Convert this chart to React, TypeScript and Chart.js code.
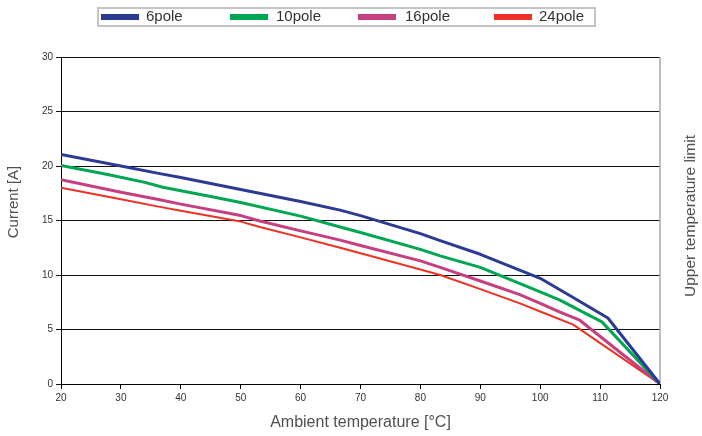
import React, { useEffect, useRef } from "react";
import { Chart, registerables } from "chart.js";

Chart.register(...registerables);

const SERIES_NAMES = ["6pole", "10pole", "16pole", "24pole"];
const SERIES_COLORS = ["#2b3b93", "#00a651", "#c63f80", "#ee3124"];
const SERIES_WIDTHS = [3, 3, 3, 2];

const T6 = [20, 30, 36.5, 40, 50, 60, 66.6, 70, 80, 83.3, 90, 100, 105, 111.3, 120];
const I6 = [21.05, 20.0, 19.3, 18.95, 17.85, 16.75, 15.95, 15.45, 13.8, 13.15, 11.9, 9.7, 8.1, 6.05, 0];

const T10 = [20, 28, 34, 37, 45, 50, 60, 66.6, 70, 80, 83.3, 90, 100, 103.3, 110.3, 120];
const I10 = [20.05, 19.2, 18.5, 18.05, 17.2, 16.65, 15.4, 14.4, 13.9, 12.35, 11.75, 10.7, 8.45, 7.7, 5.7, 0];

const T16 = [20, 30, 36.5, 40, 50, 53.2, 60, 66.6, 70, 80, 83.3, 90, 96.6, 100, 103.3, 106.6, 120];
const I16 = [18.75, 17.6, 16.9, 16.5, 15.45, 14.95, 14.05, 13.2, 12.7, 11.3, 10.7, 9.45, 8.2, 7.4, 6.6, 5.85, 0];

const T24 = [20, 30, 36.5, 40, 50, 53.2, 60, 66.6, 70, 80, 83.3, 90, 96.6, 100, 105.5, 120];
const I24 = [18.0, 16.95, 16.25, 15.9, 14.9, 14.4, 13.45, 12.5, 12.0, 10.5, 10.0, 8.7, 7.4, 6.65, 5.45, 0];

const X_TITLE = "Ambient temperature [°C]";
const Y_TITLE = "Current [A]";
const RIGHT_TITLE = "Upper temperature limit";

const TEMPS = [T6, T10, T16, T24];
const CURRENTS = [I6, I10, I16, I24];

const TICK_FONT = { family: "'Liberation Sans', Arial, sans-serif", size: 10 };
const FONT_FAMILY = "'Liberation Sans', Arial, sans-serif";

const decorPlugin = {
  id: "decor",
  beforeDatasetsDraw(chart: any) {
    const { ctx, chartArea } = chart;
    ctx.save();
    ctx.strokeStyle = "#a8a8a8";
    ctx.lineWidth = 1.5;
    ctx.beginPath();
    ctx.moveTo(chartArea.right, chartArea.top);
    ctx.lineTo(chartArea.right, chartArea.bottom);
    ctx.stroke();
    ctx.restore();
  },
  afterDraw(chart: any) {
    const { ctx, chartArea } = chart;
    ctx.save();
    // legend box
    ctx.strokeStyle = "#c4c4c4";
    ctx.lineWidth = 2;
    ctx.strokeRect(98, 8, 497, 18);
    const swX = [101, 230, 358, 494];
    const txX = [146, 276, 405, 539];
    ctx.font = "15px " + FONT_FAMILY;
    ctx.textBaseline = "middle";
    ctx.textAlign = "left";
    for (let i = 0; i < SERIES_NAMES.length; i++) {
      ctx.fillStyle = SERIES_COLORS[i];
      ctx.fillRect(swX[i], 14, 38, 6);
      ctx.fillStyle = "#333333";
      ctx.fillText(SERIES_NAMES[i], txX[i], 17);
    }
    // titles
    ctx.fillStyle = "#505050";
    ctx.textAlign = "center";
    ctx.textBaseline = "middle";
    ctx.font = "16px " + FONT_FAMILY;
    ctx.fillText(X_TITLE, (chartArea.left + chartArea.right) / 2, 423);
    ctx.font = "15px " + FONT_FAMILY;
    ctx.save();
    ctx.translate(14, 202);
    ctx.rotate(-Math.PI / 2);
    ctx.fillText(Y_TITLE, 0, 0);
    ctx.restore();
    ctx.save();
    ctx.translate(691, 216);
    ctx.rotate(-Math.PI / 2);
    ctx.font = "15.5px " + FONT_FAMILY;
    ctx.fillText(RIGHT_TITLE, 0, 0);
    ctx.restore();
    ctx.restore();
  },
};

export default function App() {
  const ref = useRef<HTMLCanvasElement>(null);
  useEffect(() => {
    document.body.style.margin = "0";
    const canvas = ref.current;
    if (!canvas) return;
    const chart = new Chart(canvas, {
      type: "line",
      data: {
        datasets: SERIES_NAMES.map((name, i) => ({
          label: name,
          data: TEMPS[i].map((t, j) => ({ x: t, y: CURRENTS[i][j] })),
          borderColor: SERIES_COLORS[i],
          backgroundColor: SERIES_COLORS[i],
          borderWidth: SERIES_WIDTHS[i],
          pointRadius: 0,
          tension: 0,
          fill: false,
          borderJoinStyle: "round" as const,
        })),
      },
      options: {
        responsive: false,
        animation: false,
        devicePixelRatio: 1,
        layout: { padding: { top: 57, right: 42, left: 0, bottom: 0 } },
        plugins: { legend: { display: false }, tooltip: { enabled: false } },
        scales: {
          x: {
            type: "linear",
            min: 20,
            max: 120,
            ticks: { stepSize: 10, font: TICK_FONT, color: "#333", padding: 3, maxRotation: 0 },
            grid: { drawOnChartArea: false, drawTicks: true, tickLength: 5, color: "#000" },
            border: { color: "#000", width: 1 },
            afterFit: (s: any) => { s.height = 52; },
          },
          y: {
            min: 0,
            max: 30,
            ticks: { stepSize: 5, font: TICK_FONT, color: "#333", padding: 3 },
            grid: { color: "#111", lineWidth: 1, tickLength: 5 },
            border: { color: "#000", width: 1 },
            afterFit: (s: any) => { s.width = 61; },
          },
        },
      },
      plugins: [decorPlugin],
    });
    return () => chart.destroy();
  }, []);
  return (
    <div style={{ position: "absolute", left: 0, top: 0, width: 702, height: 436 }}>
      <canvas ref={ref} width={702} height={436} />
    </div>
  );
}
